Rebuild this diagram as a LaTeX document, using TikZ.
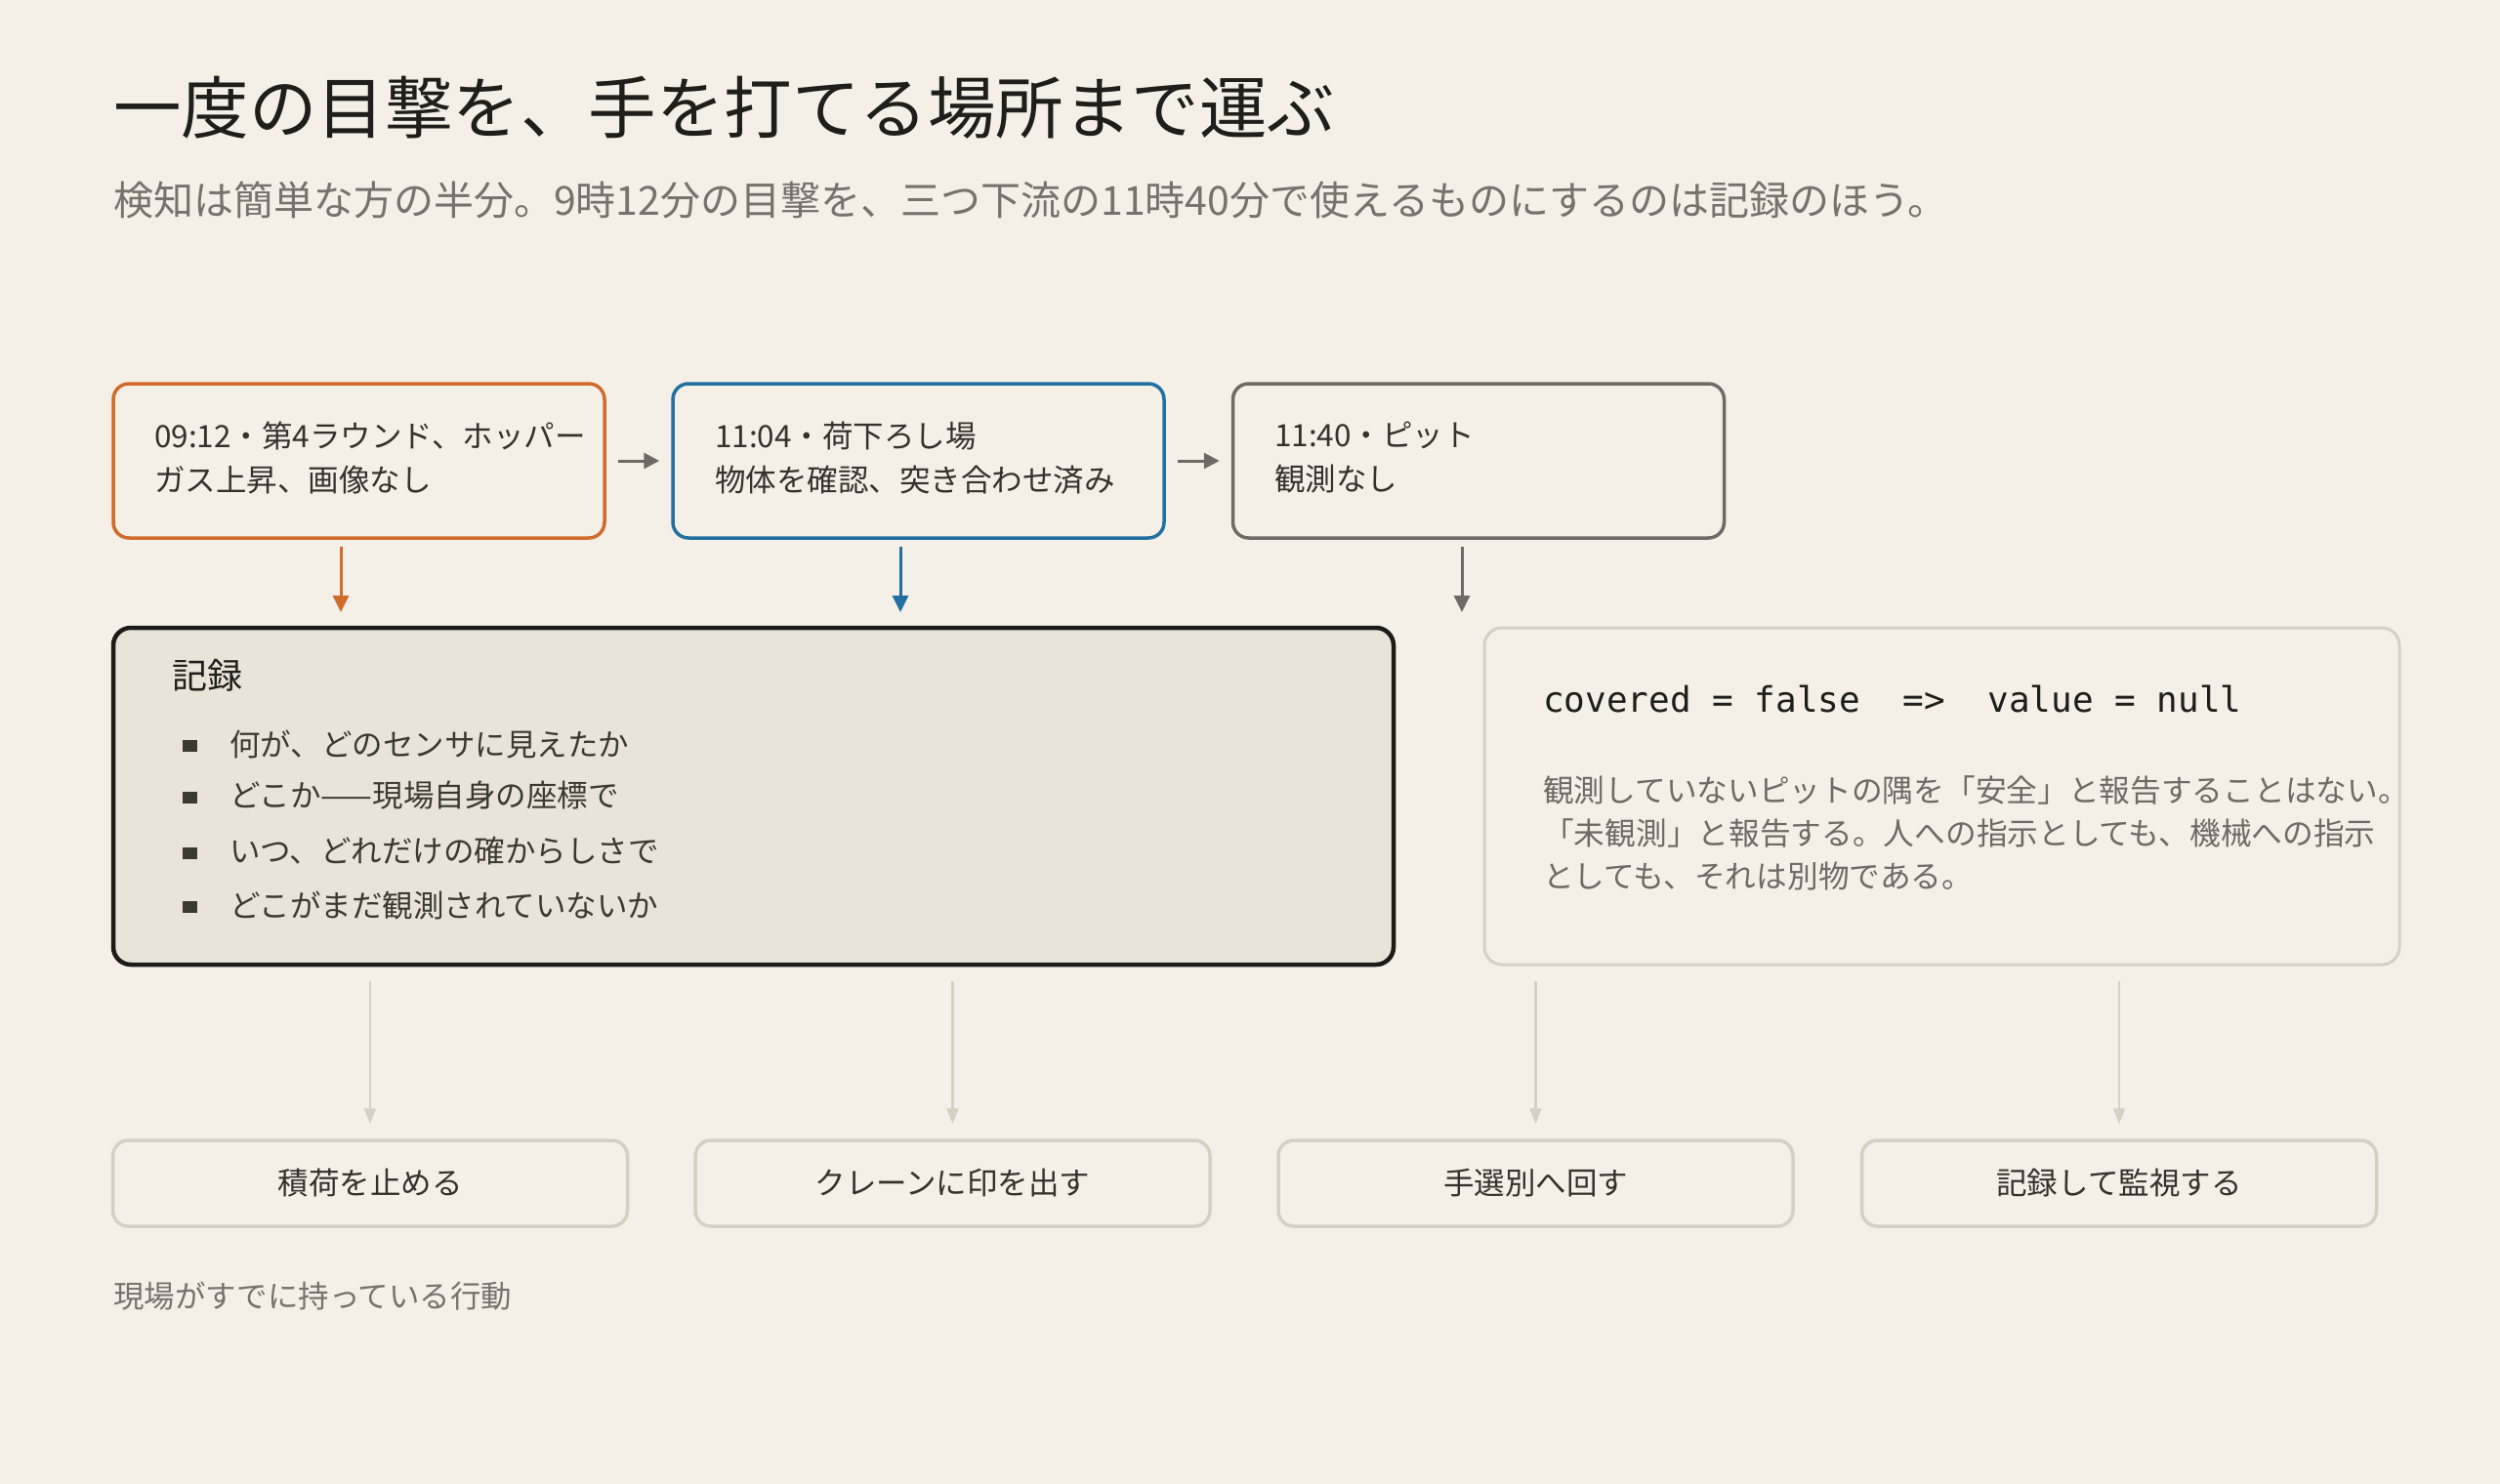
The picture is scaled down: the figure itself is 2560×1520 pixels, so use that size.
\documentclass[tikz,border=0pt]{standalone}
\usepackage{fontspec}
\setmainfont{Noto Sans CJK JP}
\newfontfamily\codefont{DejaVu Sans Mono}
\usetikzlibrary{arrows.meta}
\definecolor{bg}{HTML}{F4F0E8}
\definecolor{orng}{HTML}{D06B2B}
\definecolor{blu}{HTML}{21709F}
\definecolor{gry}{HTML}{6E6B67}
\definecolor{recfill}{HTML}{EAE4D8}
\definecolor{recline}{HTML}{1C1B18}
\definecolor{lite}{HTML}{D5D0C3}
\definecolor{ink}{HTML}{35322B}
\definecolor{titleink}{HTML}{1F1E1B}
\definecolor{subink}{HTML}{77736C}
\definecolor{parink}{HTML}{6F6B64}
\definecolor{bulink}{HTML}{3B3A2F}
\tikzset{
  evt/.style={draw, line width=3.5pt, rounded corners=16pt, minimum width=503pt, minimum height=158pt, fill=bg, inner sep=0pt},
  evttext/.style={anchor=west, align=left, inner sep=0pt, text=ink, font=\fontsize{31.5}{45}\selectfont},
  recbox/.style={draw=recline, line width=4.5pt, rounded corners=18pt, fill=recfill, minimum width=1311pt, minimum height=345pt, inner sep=0pt},
  notebox/.style={draw=lite, line width=3pt, rounded corners=18pt, fill=bg, minimum width=937pt, minimum height=345pt, inner sep=0pt},
  actbox/.style={draw=lite, line width=3.5pt, rounded corners=16pt, fill=bg, minimum width=527pt, minimum height=88pt, inner sep=0pt, text=ink, font=\fontsize{31.5}{40}\selectfont},
  bul/.style={fill=bulink, minimum width=15pt, minimum height=12pt, inner sep=0pt},
  bultext/.style={anchor=west, inner sep=0pt, text=bulink, font=\fontsize{31.5}{40}\selectfont},
  darr/.style={line width=3pt},
  harr/.style={line width=3pt, draw=gry, -{Triangle[length=16pt,width=16pt,fill=gry]}, shorten <=12pt, shorten >=12pt},
  larr/.style={line width=2.2pt, draw=lite, -{Triangle[length=16pt,width=12pt,fill=lite]}, shorten >=15pt}
}
\begin{document}
\begin{tikzpicture}[x=1pt,y=-1pt]
\useasboundingbox[fill=bg] (0,0) rectangle (2560,1520);

% title and subtitle
\node[anchor=west, inner sep=0pt, text=titleink, font=\fontsize{69.5}{80}\selectfont] (title) at (116,110) {一度の目撃を、手を打てる場所まで運ぶ};
\node[anchor=west, inner sep=0pt, text=subink, font=\fontsize{41}{48}\selectfont] (sub) at (116,205) {検知は簡単な方の半分。9時12分の目撃を、三つ下流の11時40分で使えるものにするのは記録のほう。};

% event boxes
\node[evt, draw=orng] (o) at (367.5,472) {};
\node[evt, draw=blu] (b) at (940.5,472) {};
\node[evt, draw=gry] (g) at (1514,472) {};
\node[evttext] (ot) at (158,469) {09:12・第4ラウンド、ホッパー\\ガス上昇、画像なし};
\node[evttext] (bt) at (732,469) {11:04・荷下ろし場\\物体を確認、突き合わせ済み};
\node[evttext] (gt) at (1305,469) {11:40・ピット\\観測なし};

\draw[harr] (o.east) -- (b.west);
\draw[harr] (b.east) -- (g.west);

% record box and note box
\node[recbox] (rec) at (771.5,815.5) {};
\node[notebox] (note) at (1988.5,815.5) {};

\coordinate (od) at (349,560);
\coordinate (bd) at (922,560);
\coordinate (gd) at (1497,560);
\coordinate (odx) at (349,627);
\coordinate (bdx) at (922,627);
\coordinate (gdx) at (1497,627);
\draw[darr, draw=orng, -{Triangle[length=17pt,width=16pt,fill=orng]}] (od) -- (odx);
\draw[darr, draw=blu, -{Triangle[length=17pt,width=16pt,fill=blu]}] (bd) -- (bdx);
\draw[darr, draw=gry, -{Triangle[length=17pt,width=16pt,fill=gry]}] (gd) -- (gdx);

\node[anchor=west, inner sep=0pt, text=titleink, font=\fontsize{36}{44}\selectfont] (rectitle) at (176,692) {記録};
\node[bul] (k1) at (194,764) {};
\node[bul] (k2) at (194,817) {};
\node[bul] (k3) at (194,874) {};
\node[bul] (k4) at (194,929) {};
\node[bultext] (t1) at (235,762) {何が、どのセンサに見えたか};
\node[bultext] (t2) at (235,815) {どこか——現場自身の座標で};
\node[bultext] (t3) at (235,872) {いつ、どれだけの確からしさで};
\node[bultext] (t4) at (235,927) {どこがまだ観測されていないか};

\node[anchor=west, inner sep=0pt, text=titleink, font=\codefont\fontsize{36}{44}\selectfont] (code) at (1580,716) {covered = false\ \ =>\ \ value = null};
\node[anchor=west, align=left, inner sep=0pt, text=parink, font=\fontsize{31.7}{44}\selectfont] (par) at (1580,853) {観測していないピットの隅を「安全」と報告することはない。\\「未観測」と報告する。人への指示としても、機械への指示\\としても、それは別物である。};

% action boxes
\node[actbox] (a1) at (379,1212) {積荷を止める};
\node[actbox] (a2) at (975.5,1212) {クレーンに印を出す};
\node[actbox] (a3) at (1572.5,1212) {手選別へ回す};
\node[actbox] (a4) at (2170,1212) {記録して監視する};

\coordinate (s1) at (379,1005);
\coordinate (s2) at (975.5,1005);
\coordinate (s3) at (1572.5,1005);
\coordinate (s4) at (2170,1005);
\draw[larr] (s1) -- (a1.north);
\draw[larr] (s2) -- (a2.north);
\draw[larr] (s3) -- (a3.north);
\draw[larr] (s4) -- (a4.north);

\node[anchor=west, inner sep=0pt, text=subink, font=\fontsize{31.5}{40}\selectfont] (foot) at (116,1328) {現場がすでに持っている行動};
\end{tikzpicture}
\end{document}
